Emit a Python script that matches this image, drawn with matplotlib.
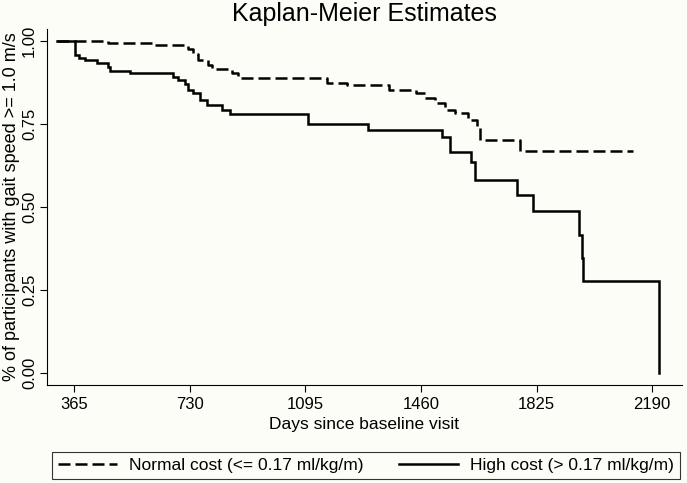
import matplotlib
matplotlib.use("Agg")
import matplotlib.pyplot as plt
from matplotlib.lines import Line2D

plt.rcParams['font.family'] = ['Liberation Sans', 'DejaVu Sans']

# Data (days since baseline, survival estimate)
normal_t = [310, 473, 610, 726, 741, 757, 789, 800, 863, 884, 1162, 1226, 1360,
            1446, 1473, 1504, 1536, 1567, 1609, 1636, 1646, 1772, 2130]
normal_s = [1.0, 0.993, 0.987, 0.975, 0.960, 0.942, 0.927, 0.915, 0.902, 0.888,
            0.872, 0.865, 0.852, 0.842, 0.827, 0.812, 0.791, 0.781, 0.761, 0.741,
            0.701, 0.669, 0.669]

high_t = [310, 368, 382, 400, 437, 473, 479, 542, 678, 694, 715, 726, 741, 763,
          784, 831, 857, 1104, 1294, 1525, 1551, 1618, 1630, 1762, 1814, 1960,
          1967, 1972, 2211]
high_s = [1.0, 0.957, 0.947, 0.942, 0.932, 0.920, 0.910, 0.902, 0.892, 0.882,
          0.868, 0.852, 0.842, 0.821, 0.806, 0.791, 0.778, 0.749, 0.731, 0.711,
          0.666, 0.636, 0.581, 0.534, 0.486, 0.416, 0.346, 0.277, 0.0]

x_ticks = [365, 730, 1095, 1460, 1825, 2190]
y_ticks = [0.0, 0.25, 0.50, 0.75, 1.00]
y_tick_labels = ["0.00", "0.25", "0.50", "0.75", "1.00"]

title = "Kaplan-Meier Estimates"
xlabel = "Days since baseline visit"
ylabel = "% of participants with gait speed >= 1.0 m/s"
legend_labels = ["Normal cost (<= 0.17 ml/kg/m)", "High cost (> 0.17 ml/kg/m)"]

bg = '#fdfdf8'
fig = plt.figure(figsize=(6.87, 4.83), dpi=100, facecolor=bg)
ax = fig.add_axes([0.068, 0.2029, 0.9243, 0.737], facecolor=bg)

lw = 1.8
ax.step(normal_t, normal_s, where='post', color='black', lw=lw,
        dashes=(4.8, 2.0), solid_joinstyle='miter')
ax.step(high_t, high_s, where='post', color='black', lw=lw,
        solid_joinstyle='miter')

ax.set_xlim(279, 2283)
ax.set_ylim(-0.037, 1.035)
ax.set_xticks(x_ticks)
ax.set_xticklabels([str(t) for t in x_ticks], fontsize=12)
ax.set_yticks(y_ticks)
ax.set_yticklabels(y_tick_labels, fontsize=12, rotation=90, va='center')
ax.tick_params(axis='both', direction='out', length=5, width=0.8, color='black')
ax.tick_params(axis='x', pad=3.5)
ax.tick_params(axis='y', pad=2)

for s in ['top', 'right']:
    ax.spines[s].set_visible(False)
for s in ['left', 'bottom']:
    ax.spines[s].set_linewidth(0.8)

ax.set_xlabel(xlabel, fontsize=12.5, labelpad=3.5)
ax.set_ylabel(ylabel, fontsize=13, labelpad=1.5)
fig.text(0.53, 0.972, title, fontsize=18, ha='center', va='center')

handles = [Line2D([], [], color='black', lw=lw, dashes=(4.8, 2.0)),
           Line2D([], [], color='black', lw=lw)]
leg = fig.legend(handles, legend_labels, loc='lower left', ncol=2,
                 bbox_to_anchor=(0.0757, 0.0083, 0.914, 0.062), mode='expand',
                 fontsize=12.5, frameon=True, fancybox=False, edgecolor='black',
                 facecolor=bg, handlelength=3.4, handletextpad=0.7,
                 borderaxespad=0, borderpad=0.35)
leg.get_frame().set_linewidth(0.8)

fig.savefig('out.png', dpi=100, facecolor=bg)
